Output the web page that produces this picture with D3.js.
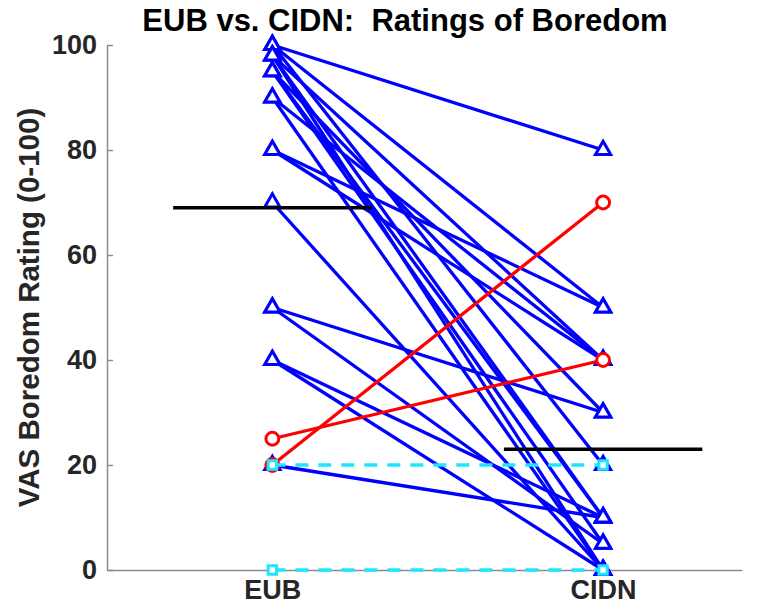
<!DOCTYPE html>
<html>
<head>
<meta charset="utf-8">
<script src="https://cdn.jsdelivr.net/npm/d3@7"></script>
<style>
  body { margin: 0; background: #fff; }
  text { font-family: "Liberation Sans", Arial, sans-serif; }
</style>
</head>
<body>
<script>
// categories on the x axis
var conditions = ["EUB", "CIDN"];

// blue (triangle) subjects: rating under EUB, rating under CIDN
var blueEUB  = [100, 100, 100, 98, 98, 98, 95, 95, 95, 90, 90, 80, 80, 70, 50, 50, 40, 40, 20];
var blueCIDN = [80,  50,  20,  40, 10, 0,  30, 5,  10, 40, 0,  50, 40, 0,  30, 5,  10, 0,  10];

// red (circle) subjects: rating went up
var redEUB  = [25, 20];
var redCIDN = [40, 70];

// cyan (square, dashed) subjects: no change
var cyanEUB  = [20, 0];
var cyanCIDN = [20, 0];

// group means drawn as black bars
var groupMeans = [69, 23];

var yTicks = [0, 20, 40, 60, 80, 100];

var width = 762, height = 614;
var margin = {top: 45, right: 20, bottom: 44, left: 107};

var svg = d3.select("body").append("svg")
    .attr("width", width)
    .attr("height", height);

var x = d3.scaleLinear().domain([0.5, 2.42]).range([margin.left, width - margin.right]);
var y = d3.scaleLinear().domain([0, 100]).range([height - margin.bottom, margin.top]);

// axes
var yAxis = svg.append("g")
    .attr("transform", "translate(" + margin.left + ",0)")
    .call(d3.axisLeft(y).tickValues(yTicks).tickSizeInner(-6).tickSizeOuter(0).tickPadding(10));
var xAxis = svg.append("g")
    .attr("transform", "translate(0," + (height - margin.bottom) + ")")
    .call(d3.axisBottom(x).tickValues([1, 2]).tickFormat(function(d) { return conditions[d - 1]; })
        .tickSizeInner(-6).tickSizeOuter(0).tickPadding(10));

[yAxis, xAxis].forEach(function(g) {
    g.select(".domain").attr("stroke", "#8c8c8c").attr("stroke-width", 1.5);
    g.selectAll(".tick line").attr("stroke", "#8c8c8c").attr("stroke-width", 1.5);
    g.selectAll(".tick text")
        .attr("fill", "#262626")
        .style("font-size", "27px")
        .style("font-weight", "bold");
});

function pairs(a, b) {
    return a.map(function(v, i) { return {eub: v, cidn: b[i]}; });
}

function drawGroup(data, color, dash, marker) {
    var g = svg.append("g");
    data.forEach(function(d) {
        g.append("line")
            .attr("x1", x(1)).attr("y1", y(d.eub))
            .attr("x2", x(2)).attr("y2", y(d.cidn))
            .attr("stroke", color)
            .attr("stroke-width", dash ? 3.5 : 3.3)
            .attr("stroke-dasharray", dash ? "13,10" : null);
        [[1, d.eub], [2, d.cidn]].forEach(function(p) {
            g.append("path")
                .attr("d", marker)
                .attr("transform", "translate(" + x(p[0]) + "," + y(p[1]) + ")")
                .attr("fill", "#fff")
                .attr("stroke", color)
                .attr("stroke-width", 3);
        });
    });
}

drawGroup(pairs(blueEUB, blueCIDN), "#0000ff", false, d3.symbol(d3.symbolTriangle, 100)());
drawGroup(pairs(redEUB, redCIDN), "#ff0000", false, d3.symbol(d3.symbolCircle, 130)());
drawGroup(pairs(cyanEUB, cyanCIDN), "#1ee6ff", true, d3.symbol(d3.symbolSquare, 70)());

// mean bars
svg.append("g").selectAll("line").data(groupMeans).enter().append("line")
    .attr("x1", function(d, i) { return x(i + 1 - 0.3); })
    .attr("x2", function(d, i) { return x(i + 1 + 0.3); })
    .attr("y1", function(d) { return y(d); })
    .attr("y2", function(d) { return y(d); })
    .attr("stroke", "#000")
    .attr("stroke-width", 3.5);

// title (two spaces after the colon, kept)
svg.append("text")
    .attr("x", 405)
    .attr("y", 31)
    .attr("text-anchor", "middle")
    .style("font-size", "31px")
    .style("font-weight", "bold")
    .style("white-space", "pre")
    .attr("fill", "#000")
    .text("EUB vs. CIDN:  Ratings of Boredom");

// y label
svg.append("text")
    .attr("transform", "translate(39," + (height - margin.bottom + margin.top) / 2 + ") rotate(-90)")
    .attr("text-anchor", "middle")
    .style("font-size", "29.5px")
    .style("font-weight", "bold")
    .attr("fill", "#262626")
    .text("VAS Boredom Rating (0-100)");
</script>
</body>
</html>
